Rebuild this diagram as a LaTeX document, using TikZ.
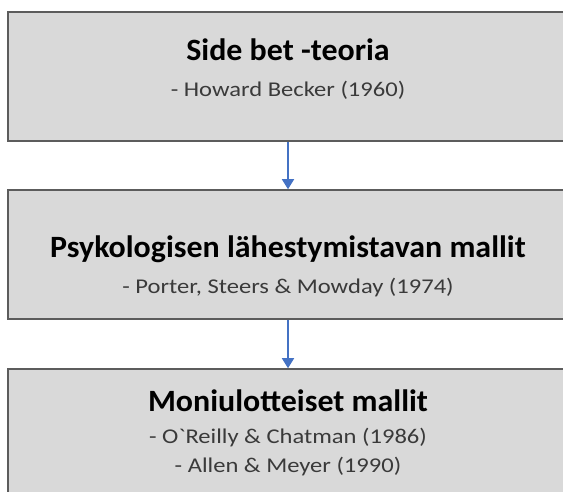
\documentclass[tikz,border=0pt]{standalone}
\usepackage{fontspec}
\setmainfont{Carlito}
\newfontfamily\titlefont[FakeStretch=1.03]{Carlito}
\newfontfamily\subfont[FakeStretch=1.17]{Carlito}
\usetikzlibrary{arrows.meta}
\definecolor{boxfill}{HTML}{D9D9D9}
\definecolor{boxline}{HTML}{5C5C5C}
\definecolor{arrowblue}{HTML}{4472C4}
\definecolor{subgray}{HTML}{3A3A3A}
\tikzset{
  x=1pt,y=1pt,
  stagebox/.style={draw=boxline,line width=1.5pt,fill=boxfill,minimum width=560pt,minimum height=129pt,inner sep=0pt},
  titletext/.style={anchor=base,inner sep=0pt,font=\titlefont\fontsize{31}{36}\selectfont\bfseries},
  subtext/.style={anchor=base,inner sep=0pt,text=subgray,font=\subfont\fontsize{21}{25}\selectfont},
  flow/.style={draw=arrowblue,line width=1.6pt,-{Triangle[width=12pt,length=10pt]}}
}
\begin{document}
\begin{tikzpicture}
\useasboundingbox (0,0) rectangle (563,492);
\clip (0,0) rectangle (563,492);
\node[stagebox] (b1) at (288,415.25) {};
\node[stagebox] (b2) at (288,237.5) {};
\node[stagebox] (b3) at (288,58.5) {};
\node[titletext] (t1) at (288,431) {Side bet -teoria};
\node[subtext] (s1) at (288,395) {- Howard Becker (1960)};
\node[titletext] (t2) at (288,234) {Psykologisen lähestymistavan mallit};
\node[subtext] (s2) at (288,198) {- Porter, Steers \& Mowday (1974)};
\node[titletext] (t3) at (288,80) {Moniulotteiset mallit};
\node[subtext] (s3) at (288,48) {- O`Reilly \& Chatman (1986)};
\node[subtext] (s4) at (288,19) {- Allen \& Meyer (1990)};
\draw[flow] (b1.south) -- (b2.north);
\draw[flow] (b2.south) -- (b3.north);
\end{tikzpicture}
\end{document}
